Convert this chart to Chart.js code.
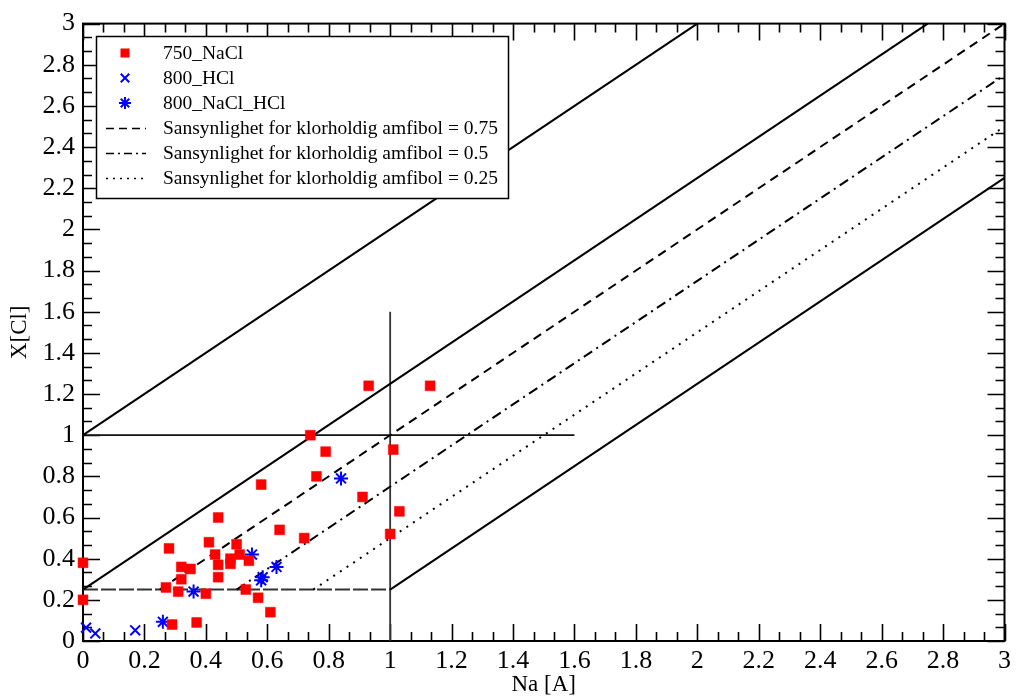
<!DOCTYPE html>
<html>
<head>
<meta charset="utf-8">
<script src="https://cdn.jsdelivr.net/npm/chart.js@4/dist/chart.umd.min.js"></script>
<style>
  html, body { margin: 0; padding: 0; background: #fff; }
  #wrap { width: 1016px; height: 696px; }
</style>
</head>
<body>
<div id="wrap"><canvas id="chart" width="1016" height="696"></canvas></div>
<script>
// Measured points (Na [A] vs X[Cl])
const nacl750X = [0, 0, 0.27, 0.28, 0.29, 0.31, 0.32, 0.32, 0.35, 0.37, 0.40, 0.41, 0.43, 0.44, 0.44, 0.44,
  0.48, 0.48, 0.50, 0.51, 0.54, 0.53, 0.57, 0.58, 0.61, 0.64, 0.72, 0.74, 0.76, 0.79, 0.91, 0.93, 1.0, 1.01, 1.03, 1.13];
const nacl750Y = [0.38, 0.20, 0.26, 0.45, 0.08, 0.24, 0.30, 0.36, 0.35, 0.09, 0.23, 0.48, 0.42, 0.31, 0.37, 0.60,
  0.40, 0.375, 0.47, 0.42, 0.39, 0.25, 0.21, 0.76, 0.14, 0.54, 0.50, 1.00, 0.80, 0.92, 0.70, 1.24, 0.52, 0.93, 0.63, 1.24];

const hcl800X = [0.01, 0.04, 0.17];
const hcl800Y = [0.065, 0.037, 0.052];

const naclHcl800X = [0.26, 0.36, 0.55, 0.63, 0.585, 0.58, 0.84];
const naclHcl800Y = [0.093, 0.24, 0.42, 0.36, 0.31, 0.295, 0.79];

// Reference lines (endpoints in data units)
const upperX = [0, 2],      upperY = [1, 3];
const boundX = [0, 2.75],   boundY = [0.25, 3];
const p75X = [0.25, 3],     p75Y = [0.25, 3];
const p50X = [0.5, 3],      p50Y = [0.25, 2.75];
const p25X = [0.75, 3],     p25Y = [0.25, 2.5];
const lowerX = [1, 3],      lowerY = [0.25, 2.25];
const baseX = [0, 1],       baseY = [0.25, 0.25];
const vertX = [1, 1],       vertY = [0, 1.6];
const horizX = [0, 1.6],    horizY = [1, 1];

const legendLabels = ['750_NaCl', '800_HCl', '800_NaCl_HCl',
  'Sansynlighet for klorholdig amfibol = 0.75',
  'Sansynlighet for klorholdig amfibol = 0.5',
  'Sansynlighet for klorholdig amfibol = 0.25'];

const SERIF = '"Liberation Serif", "DejaVu Serif", serif';
const pts = (xs, ys) => xs.map((x, i) => ({ x, y: ys[i] }));

function lineSet(xs, ys, dash, color, width) {
  return {
    data: pts(xs, ys), showLine: true, pointRadius: 0, pointHoverRadius: 0,
    borderColor: color || '#000', borderWidth: width || 2, borderDash: dash || [],
    fill: false, clip: false
  };
}

// inward ticks on all four sides + frame
const frameTicks = {
  id: 'frameTicks',
  beforeDatasetsDraw(chart) {
    const { ctx, chartArea: a, scales } = chart;
    ctx.save();
    ctx.strokeStyle = '#000';
    ctx.lineWidth = 2;
    ctx.strokeRect(a.left, a.top, a.right - a.left, a.bottom - a.top);
    ctx.lineWidth = 1.6;
    for (let i = 0; i <= 45; i++) {
      const v = i / 15;
      const len = i % 3 === 0 ? 17 : 9;
      const px = Math.round(scales.x.getPixelForValue(v)) + 0.5;
      const py = Math.round(scales.y.getPixelForValue(v)) + 0.5;
      ctx.beginPath();
      ctx.moveTo(px, a.bottom); ctx.lineTo(px, a.bottom - len);
      ctx.moveTo(px, a.top); ctx.lineTo(px, a.top + len);
      ctx.moveTo(a.left, py); ctx.lineTo(a.left + len, py);
      ctx.moveTo(a.right, py); ctx.lineTo(a.right - len, py);
      ctx.stroke();
    }
    ctx.restore();
  }
};

// boxed legend in the upper left
const boxLegend = {
  id: 'boxLegend',
  afterDatasetsDraw(chart) {
    const { ctx } = chart;
    const box = { x: 96, y: 36, w: 412, h: 162 };
    ctx.save();
    ctx.fillStyle = '#fff';
    ctx.fillRect(box.x, box.y, box.w, box.h);
    ctx.strokeStyle = '#000';
    ctx.lineWidth = 1.5;
    ctx.strokeRect(box.x + 0.5, box.y + 0.5, box.w, box.h);
    const rows = [53, 78, 103, 128, 153, 178];
    const symX = 125, textX = 163;
    ctx.font = '19.5px ' + SERIF;
    ctx.textBaseline = 'middle';
    ctx.fillStyle = '#000';
    legendLabels.forEach((t, i) => ctx.fillText(t, textX, rows[i] + 1));
    const sets = chart.data.datasets;
    for (let i = 0; i < 3; i++) {
      const d = sets[i];
      ctx.fillStyle = d.backgroundColor;
      ctx.strokeStyle = d.borderColor;
      ctx.lineWidth = d.borderWidth;
      Chart.helpers.drawPoint(ctx, { pointStyle: d.pointStyle, radius: d.pointRadius - 1, borderWidth: d.borderWidth }, symX, rows[i]);
    }
    const dashes = [[8, 5], [8, 4, 2, 4], [2, 5]];
    ctx.strokeStyle = '#000';
    ctx.lineWidth = 1.6;
    dashes.forEach((dp, i) => {
      ctx.setLineDash(dp);
      ctx.beginPath();
      ctx.moveTo(106, rows[i + 3] + 0.5);
      ctx.lineTo(146, rows[i + 3] + 0.5);
      ctx.stroke();
    });
    ctx.restore();
  }
};

const fmt = v => String(Number(v.toFixed(1)));

new Chart(document.getElementById('chart'), {
  type: 'scatter',
  data: {
    datasets: [
      { data: pts(nacl750X, nacl750Y), pointStyle: 'rect', pointRadius: 7, backgroundColor: '#ff0000', borderColor: '#ff0000', borderWidth: 0.5, clip: false },
      { data: pts(hcl800X, hcl800Y), pointStyle: 'crossRot', pointRadius: 7, backgroundColor: '#0000ff', borderColor: '#0000ff', borderWidth: 2, clip: false },
      { data: pts(naclHcl800X, naclHcl800Y), pointStyle: 'star', pointRadius: 7, backgroundColor: '#0000ff', borderColor: '#0000ff', borderWidth: 2, clip: false },
      lineSet(upperX, upperY),
      lineSet(boundX, boundY),
      lineSet(p75X, p75Y, [9, 6]),
      lineSet(p50X, p50Y, [10, 5, 2, 5]),
      lineSet(p25X, p25Y, [2, 6]),
      lineSet(lowerX, lowerY),
      lineSet(baseX, baseY, [15, 3], '#333', 2),
      lineSet(vertX, vertY, [], '#333', 1.8),
      lineSet(horizX, horizY, [], '#111', 1.8)
    ]
  },
  options: {
    responsive: false,
    animation: false,
    events: [],
    layout: { padding: { top: 20, right: 10, left: 0, bottom: 0 } },
    plugins: { legend: { display: false }, tooltip: { enabled: false } },
    scales: {
      x: {
        type: 'linear', min: 0, max: 3,
        grid: { display: false, drawTicks: false },
        border: { display: false },
        ticks: { stepSize: 0.2, color: '#000', padding: 5, maxRotation: 0, autoSkip: false, font: { family: SERIF, size: 26 }, callback: fmt },
        title: { display: true, text: 'Na [A]', color: '#000', font: { family: SERIF, size: 23, lineHeight: 1 }, padding: 0 },
        afterFit(s) { s.height = 55; }
      },
      y: {
        type: 'linear', min: 0, max: 3,
        grid: { display: false, drawTicks: false },
        border: { display: false },
        ticks: { stepSize: 0.2, color: '#000', padding: 8, autoSkip: false, font: { family: SERIF, size: 26 }, callback: fmt },
        title: { display: true, text: 'X[Cl]', color: '#000', font: { family: SERIF, size: 23, lineHeight: 1.2 }, padding: { top: 6, bottom: 0 } },
        afterFit(s) { s.width = 83; }
      }
    }
  },
  plugins: [frameTicks, boxLegend]
});
</script>
</body>
</html>
